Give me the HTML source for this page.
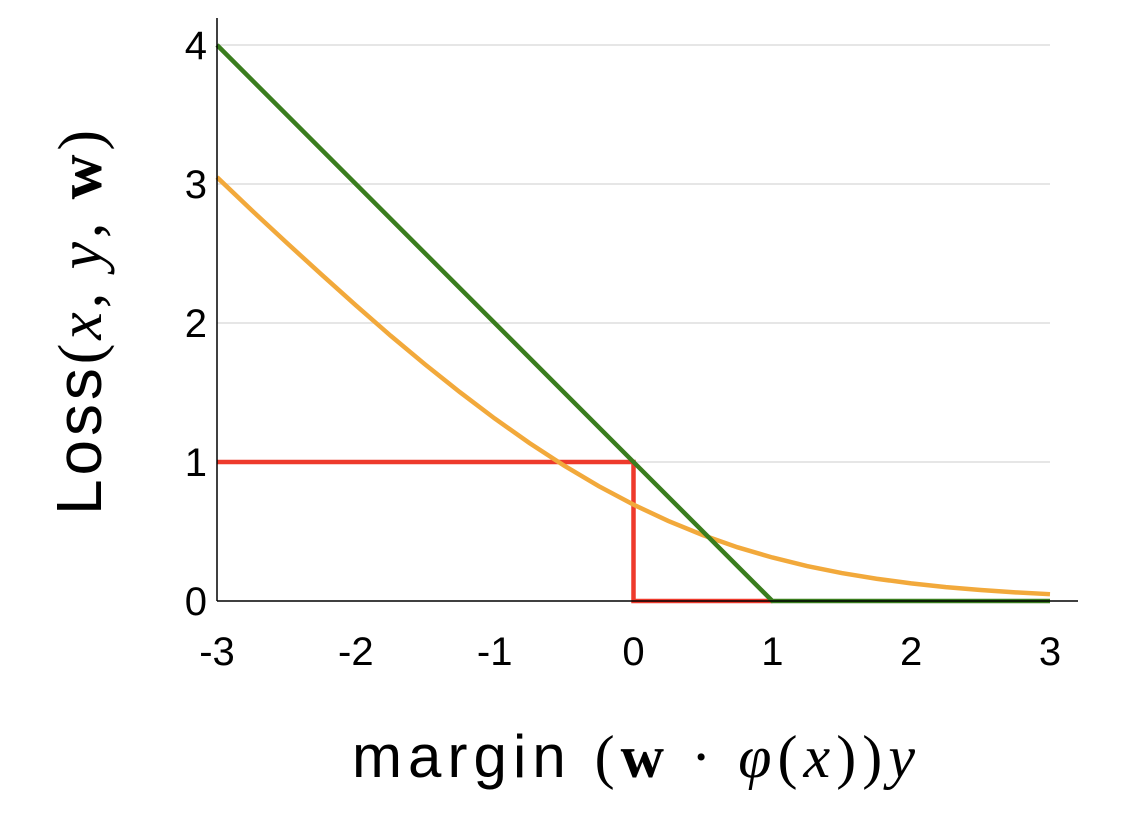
<!DOCTYPE html>
<html><head><meta charset="utf-8"><style>
html,body{margin:0;padding:0;background:#fff;}
svg{display:block;}
text{font-family:"Liberation Sans",sans-serif;fill:#000;}
</style></head><body>
<svg id="chart" width="1128" height="820">
<g id="grid"></g>
<g id="series"></g>
<g id="axes"></g>
<text x="352" y="777" font-size="60" textLength="563" lengthAdjust="spacing">margin <tspan font-family="Liberation Serif" font-size="60">(<tspan font-weight="bold">w</tspan> · <tspan font-style="italic">φ</tspan>(<tspan font-style="italic">x</tspan>))<tspan font-style="italic">y</tspan></tspan></text>
<text transform="translate(101,515) rotate(-90)" font-size="64" textLength="385" lengthAdjust="spacing">Loss<tspan font-family="Liberation Serif" font-size="62">(<tspan font-style="italic">x</tspan>, <tspan font-style="italic">y</tspan>, <tspan font-weight="bold">w</tspan>)</tspan></text>
</svg>
<script>
const xTicks=[-3,-2,-1,0,1,2,3];
const yTicks=[0,1,2,3,4];
const zeroOneX=[-3,0,0,1];
const zeroOneY=[1,1,0,0];
const hingeX=[-3,1,3];
const hingeY=[4,0,0];
const logX=[-3,-2.75,-2.5,-2.25,-2,-1.75,-1.5,-1.25,-1,-0.75,-0.5,-0.25,0,0.25,0.5,0.75,1,1.25,1.5,1.75,2,2.25,2.5,2.75,3];
const logY=[3.049,2.811,2.579,2.351,2.127,1.909,1.701,1.502,1.313,1.137,0.974,0.826,0.693,0.576,0.474,0.386,0.313,0.251,0.201,0.160,0.127,0.100,0.079,0.062,0.049];

const NS='http://www.w3.org/2000/svg';
const sx=v=>217+(v+3)*(1050-217)/6;
const sy=v=>601-v*(601-45)/4;
function mk(tag,attrs,parent){const e=document.createElementNS(NS,tag);for(const k in attrs)e.setAttribute(k,attrs[k]);parent.appendChild(e);return e;}
const grid=document.getElementById('grid'),ser=document.getElementById('series'),axes=document.getElementById('axes');
yTicks.forEach(t=>{
  if(t>0){const g=mk('line',{x1:217,x2:1050,y1:sy(t),y2:sy(t),stroke:'#dddddd','stroke-width':1.5},grid);
  
  }
  const l=mk('text',{x:207,y:sy(t)+14,'font-size':40,'text-anchor':'end'},axes);l.textContent=t;
  
  
});
xTicks.forEach(t=>{
  const l=mk('text',{x:sx(t),y:665,'font-size':40,'text-anchor':'middle'},axes);l.textContent=t;
  
  
});
const ya=mk('line',{x1:217,x2:217,y1:18,y2:601,stroke:'#000','stroke-width':1.5},axes);


const xa=mk('line',{x1:217,x2:1078,y1:601,y2:601,stroke:'#000','stroke-width':1.5},axes);


function poly(xs,ys,color,name){
  const p=mk('polyline',{points:xs.map((x,i)=>sx(x)+','+sy(ys[i])).join(' '),fill:'none',stroke:color,'stroke-width':4.5,'stroke-linejoin':'miter'},ser);
  
  
}
poly(zeroOneX,zeroOneY,'#ee3a2c','zero-one-loss-line');
poly(logX,logY,'#f2a93b','logistic-loss-line');
poly(hingeX,hingeY,'#3a7d1e','hinge-loss-line');
</script>
</body></html>
